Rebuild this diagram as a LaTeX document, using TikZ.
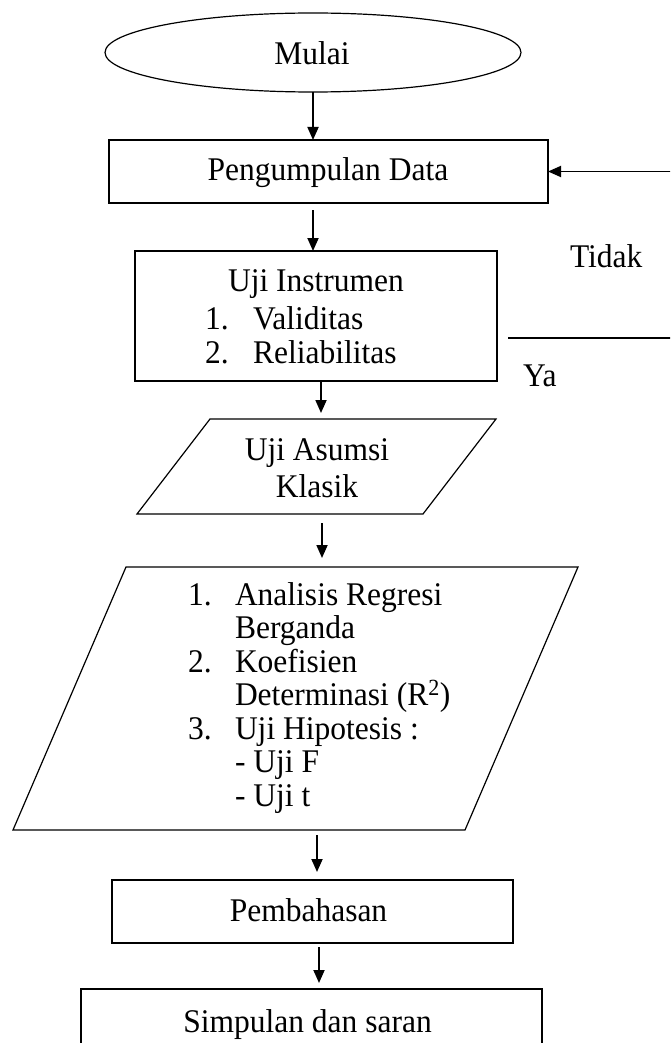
\documentclass[tikz,border=0pt]{standalone}
\usepackage{fontspec}
\usepackage{graphicx}
\setmainfont{Liberation Serif}
\usetikzlibrary{shapes.geometric,arrows.meta,calc}
\newcommand{\vt}[1]{\scalebox{1}[1.05]{#1}}
\begin{document}
\begin{tikzpicture}[x=1pt,y=-1pt,
  every node/.style={inner sep=0pt, outer sep=0pt, font=\fontsize{31.5}{34}\selectfont},
  shapebox/.style={draw, line width=1.2pt},
  txt/.style={anchor=base},
  txtl/.style={anchor=base west},
  arr/.style={line width=1.8pt, -{Triangle[length=13pt,width=11pt]}},
  plainline/.style={line width=1.5pt}]
\useasboundingbox (0,0) rectangle (670,1043);
\clip (0,0) rectangle (670,1043);

% Mulai
\node[shapebox, ellipse, minimum width=416pt, minimum height=79pt] (start) at (313,52.5) {};
\node[txt] (startt) at (312,65) {\vt{Mulai}};

% Pengumpulan Data
\node[shapebox, minimum width=439pt, minimum height=63pt] (data) at (328.5,171.5) {};
\node[txt] (datat) at (328,180) {\vt{Pengumpulan Data}};

% Uji Instrumen
\node[shapebox, minimum width=362pt, minimum height=130pt] (inst) at (316,316) {};
\node[txt] (instt) at (316,291) {\vt{Uji Instrumen}};
\node[txtl] (i1n) at (205,329) {\vt{1.}};
\node[txtl] (i1) at (253,329) {\vt{Validitas}};
\node[txtl] (i2n) at (205,363) {\vt{2.}};
\node[txtl] (i2) at (253,363) {\vt{Reliabilitas}};

\node[txtl] (tidak) at (570,267) {\vt{Tidak}};
\node[txtl] (ya) at (523,386) {\vt{Ya}};

% Uji Asumsi Klasik
\node[minimum width=359pt, minimum height=95pt] (asumsi) at (316.5,466.5) {};
\draw[shapebox] ([xshift=73pt]asumsi.north west) -- (asumsi.north east) -- ([xshift=-73pt]asumsi.south east) -- (asumsi.south west) -- cycle;
\node[txt] (asumsi1) at (317,460) {\vt{Uji Asumsi}};
\node[txt] (asumsi2) at (317,497) {\vt{Klasik}};

% Analisis
\node[minimum width=565pt, minimum height=263pt] (anal) at (295.5,698.5) {};
\draw[shapebox] ([xshift=113pt]anal.north west) -- (anal.north east) -- ([xshift=-113pt]anal.south east) -- (anal.south west) -- cycle;
\node[txtl] (a1n) at (188,605) {\vt{1.}};
\node[txtl] (a1) at (235,605) {\vt{Analisis Regresi}};
\node[txtl] (a1b) at (235,638) {\vt{Berganda}};
\node[txtl] (a2n) at (188,672) {\vt{2.}};
\node[txtl] (a2) at (235,672) {\vt{Koefisien}};
\node[txtl] (a2b) at (235,705) {\vt{Determinasi (R\textsuperscript{2})}};
\node[txtl] (a3n) at (188,739) {\vt{3.}};
\node[txtl] (a3) at (235,739) {\vt{Uji Hipotesis :}};
\node[txtl] (a3a) at (235,772) {\vt{- Uji F}};
\node[txtl] (a3b) at (235,806) {\vt{- Uji t}};

% Pembahasan
\node[shapebox, minimum width=401pt, minimum height=63pt] (bahas) at (312.5,911.5) {};
\node[txt] (bahast) at (308.5,921) {\vt{Pembahasan}};

% Simpulan
\node[shapebox, minimum width=461pt, minimum height=100pt, anchor=north] (simpul) at (311.5,989) {};
\node[txt] (simpult) at (307.5,1032) {\vt{Simpulan dan saran}};

% connectors
\draw[arr] (start.south) -- (start.south |- data.north);
\draw[arr] ([xshift=-15.5pt,yshift=-7pt]data.south) -- ([xshift=-3pt]inst.north);
\draw[arr] ([xshift=5pt]inst.south) -- ([xshift=4.5pt,yshift=6pt]asumsi.north);
\draw[arr] ([xshift=5.5pt,yshift=-9pt]asumsi.south) -- ([xshift=26.5pt,yshift=9pt]anal.north);
\draw[arr] ([xshift=21.5pt,yshift=-5pt]anal.south) -- ([xshift=4.5pt,yshift=8pt]bahas.north);
\draw[arr] ([xshift=6.5pt,yshift=-4pt]bahas.south) -- ([xshift=7.5pt,yshift=6pt]simpul.north);

\coordinate (loopin) at (675,171.5);
\draw[arr] (loopin) -- (data.east);
\coordinate (yaA) at (508,338);
\coordinate (yaB) at (675,338);
\draw[plainline] (yaA) -- (yaB);
\end{tikzpicture}
\end{document}
